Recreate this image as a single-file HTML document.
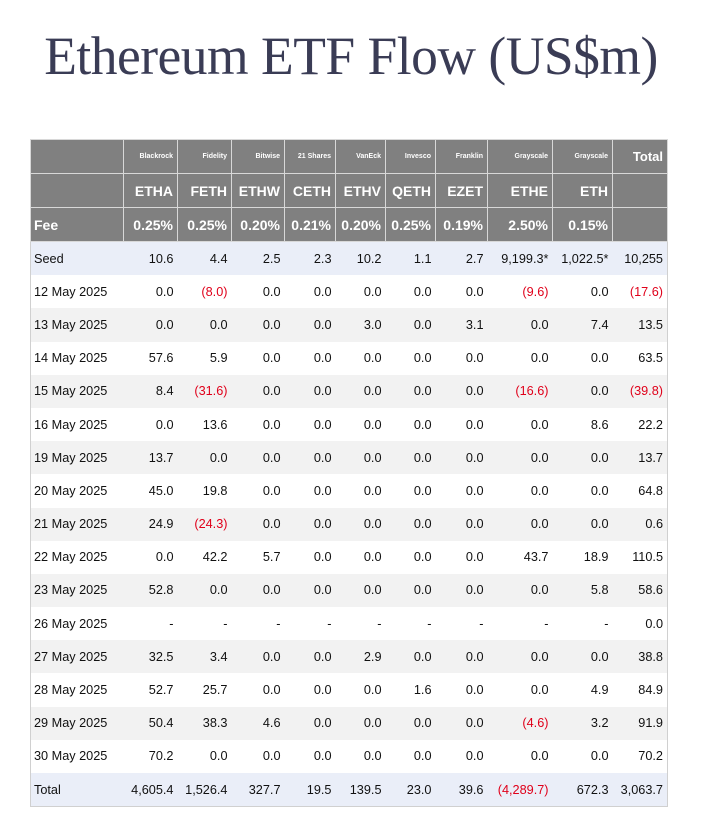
<!DOCTYPE html>
<html><head><meta charset="utf-8"><style>
body{margin:0;width:702px;height:820px;background:#fff;font-family:"Liberation Sans",Arial,sans-serif;position:relative;overflow:hidden}
h1{position:absolute;left:0;width:702px;top:25px;margin:0;text-align:center;font-family:"Liberation Serif",serif;font-weight:normal;font-size:53.5px;color:#3a3c55;letter-spacing:-0.5px}
table{position:absolute;left:30px;top:139px;border-collapse:collapse;table-layout:fixed;border:1px solid #d0d0d0}
td{padding:0 4px 0 3px;text-align:right;font-size:12.7px;color:#111;height:33.2px;white-space:nowrap;overflow:hidden}
td:first-child{text-align:left}
tr.h td{background:#808080;color:#fff;font-weight:bold;border:1px solid #d8d8d8;height:33px}
tr.h1 td{font-size:7px;vertical-align:middle}
tr.h2 td{font-size:14px}
tr.h3 td{font-size:14px}
.neg{color:#e0001a}
tr.b td{background:#eaeef8}
tr.g td{background:#f2f2f2}
</style></head><body>
<h1>Ethereum ETF Flow (US$m)</h1>
<table>
<colgroup><col style="width:93px"><col style="width:54px"><col style="width:54px"><col style="width:53px"><col style="width:51px"><col style="width:50px"><col style="width:50px"><col style="width:52px"><col style="width:65px"><col style="width:60px"><col style="width:55px"></colgroup>
<tbody id="tb"></tbody>
</table>
<script>
const issuers=["Blackrock","Fidelity","Bitwise","21 Shares","VanEck","Invesco","Franklin","Grayscale","Grayscale"];
const tickers=["ETHA","FETH","ETHW","CETH","ETHV","QETH","EZET","ETHE","ETH"];
const fees=["0.25%","0.25%","0.20%","0.21%","0.20%","0.25%","0.19%","2.50%","0.15%"];
const rows=[
["Seed","10.6","4.4","2.5","2.3","10.2","1.1","2.7","9,199.3*","1,022.5*","10,255"],
["12 May 2025","0.0","(8.0)","0.0","0.0","0.0","0.0","0.0","(9.6)","0.0","(17.6)"],
["13 May 2025","0.0","0.0","0.0","0.0","3.0","0.0","3.1","0.0","7.4","13.5"],
["14 May 2025","57.6","5.9","0.0","0.0","0.0","0.0","0.0","0.0","0.0","63.5"],
["15 May 2025","8.4","(31.6)","0.0","0.0","0.0","0.0","0.0","(16.6)","0.0","(39.8)"],
["16 May 2025","0.0","13.6","0.0","0.0","0.0","0.0","0.0","0.0","8.6","22.2"],
["19 May 2025","13.7","0.0","0.0","0.0","0.0","0.0","0.0","0.0","0.0","13.7"],
["20 May 2025","45.0","19.8","0.0","0.0","0.0","0.0","0.0","0.0","0.0","64.8"],
["21 May 2025","24.9","(24.3)","0.0","0.0","0.0","0.0","0.0","0.0","0.0","0.6"],
["22 May 2025","0.0","42.2","5.7","0.0","0.0","0.0","0.0","43.7","18.9","110.5"],
["23 May 2025","52.8","0.0","0.0","0.0","0.0","0.0","0.0","0.0","5.8","58.6"],
["26 May 2025","-","-","-","-","-","-","-","-","-","0.0"],
["27 May 2025","32.5","3.4","0.0","0.0","2.9","0.0","0.0","0.0","0.0","38.8"],
["28 May 2025","52.7","25.7","0.0","0.0","0.0","1.6","0.0","0.0","4.9","84.9"],
["29 May 2025","50.4","38.3","4.6","0.0","0.0","0.0","0.0","(4.6)","3.2","91.9"],
["30 May 2025","70.2","0.0","0.0","0.0","0.0","0.0","0.0","0.0","0.0","70.2"],
["Total","4,605.4","1,526.4","327.7","19.5","139.5","23.0","39.6","(4,289.7)","672.3","3,063.7"]
];
const tb=document.getElementById('tb');
function mk(cls,cells,name){
  const tr=document.createElement('tr');tr.className=cls;
  
  
  cells.forEach((c,i)=>{const td=document.createElement('td');td.textContent=c;
    if(/^\(/.test(c))td.className='neg';
    
    
    tr.appendChild(td);});
  tb.appendChild(tr);return tr;
}
const r1=mk('h h1',[""].concat(issuers,["Total"]),'issuer-header-row');
r1.lastChild.style.fontSize='13px';r1.lastChild.style.verticalAlign='middle';
mk('h h2',[""].concat(tickers,[""]),'ticker-header-row');
mk('h h3',["Fee"].concat(fees,[""]),'fee-header-row');
rows.forEach((r,i)=>{
  let cls=(i===0||i===rows.length-1)?'b':(i%2===0?'g':'');
  mk(cls,r,i===rows.length-1?'total-row':'data-row');
});
</script>
</body></html>
